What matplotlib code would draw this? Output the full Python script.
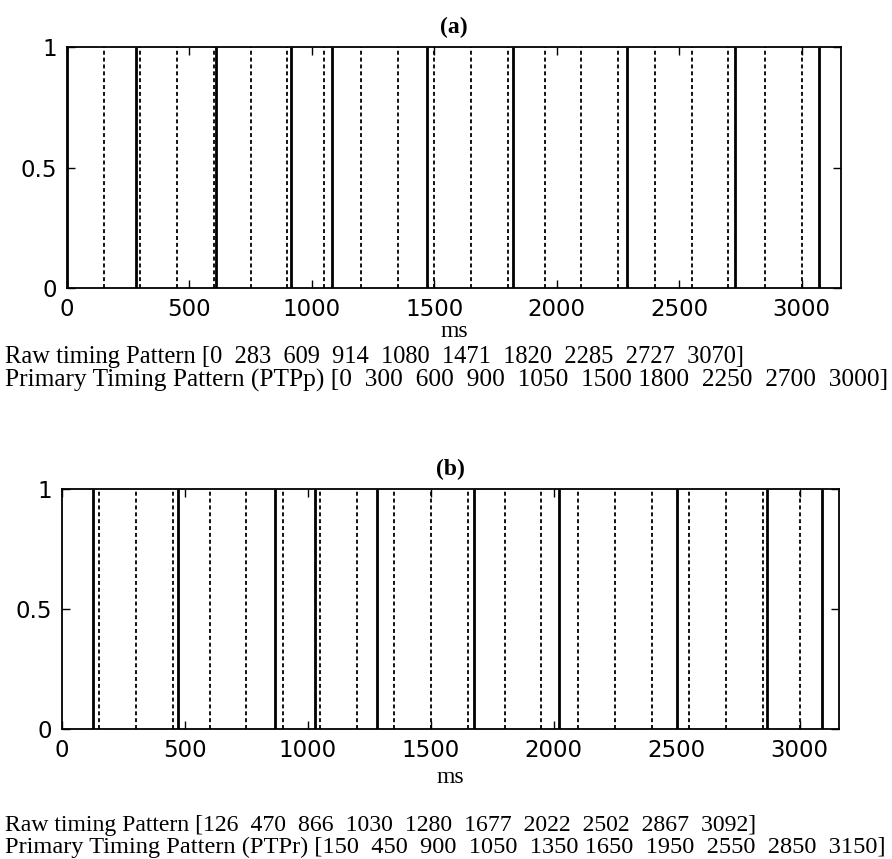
import numpy as np
import matplotlib
matplotlib.use('Agg')
import matplotlib.pyplot as plt

# raw timing patterns (solid lines) and primary grid (dashed lines)
raw_a = [0, 283, 609, 914, 1080, 1471, 1820, 2285, 2727, 3070]
raw_b = [126, 470, 866, 1030, 1280, 1677, 2022, 2502, 2867, 3092]
grid_ms = [150, 300, 450, 600, 750, 900, 1050, 1200, 1350, 1500,
           1650, 1800, 1950, 2100, 2250, 2400, 2550, 2700, 2850, 3000]

x_ticks = [0, 500, 1000, 1500, 2000, 2500, 3000]
y_ticks = [0, 0.5, 1]
x_max = 3160

text_a = ["Raw timing Pattern [0  283  609  914  1080  1471  1820  2285  2727  3070]",
          "Primary Timing Pattern (PTPp) [0  300  600  900  1050  1500 1800  2250  2700  3000]"]
text_b = ["Raw timing Pattern [126  470  866  1030  1280  1677  2022  2502  2867  3092]",
          "Primary Timing Pattern (PTPr) [150  450  900  1050  1350 1650  1950  2550  2850  3150]"]

serif = ['Liberation Serif', 'DejaVu Serif']

fig = plt.figure(figsize=(8.92, 8.59), dpi=100)

def panel(rect, raw, title, lpad):
    ax = fig.add_axes(rect)
    ax.vlines(grid_ms, 0, 1, colors='black', linestyles=(0, (2.2, 1.6)), lw=1.3)
    ax.vlines(raw, 0, 1, colors='black', lw=2.0)
    ax.set_xlim(0, x_max)
    ax.set_ylim(0, 1)
    ax.set_xticks(x_ticks)
    ax.set_yticks(y_ticks)
    ax.set_yticklabels(['0', '0.5', '1'])
    ax.tick_params(direction='in', top=True, right=True, length=6, width=1.0,
                   labelsize=16.5, pad=7)
    for s in ax.spines.values():
        s.set_linewidth(1.3)
    ax.set_title(title, fontsize=17, fontweight='bold', family=serif, pad=10)
    ax.set_xlabel('ms', fontsize=17, family=serif, labelpad=lpad)
    return ax

ax_a = panel([0.0751, 0.6647, 0.8677, 0.2806], raw_a, '(a)', 0)
ax_b = panel([0.0695, 0.1513, 0.8711, 0.2794], raw_b, '(b)', 4)

# pattern captions under each panel, sized to span roughly the same width as the original
captions = [(text_a[0], 357, 745), (text_a[1], 380, 884),
            (text_b[0], 825, 757), (text_b[1], 847, 886)]
renderer = fig.canvas.get_renderer()
for s, ypix, right in captions:
    t = fig.text(5 / 892, 1 - ypix / 859, s, fontsize=17, family=serif, va='center')
    w = t.get_window_extent(renderer).width
    t.set_fontsize(17 * (right - 5) / w)

fig.savefig('out.png', dpi=100)
